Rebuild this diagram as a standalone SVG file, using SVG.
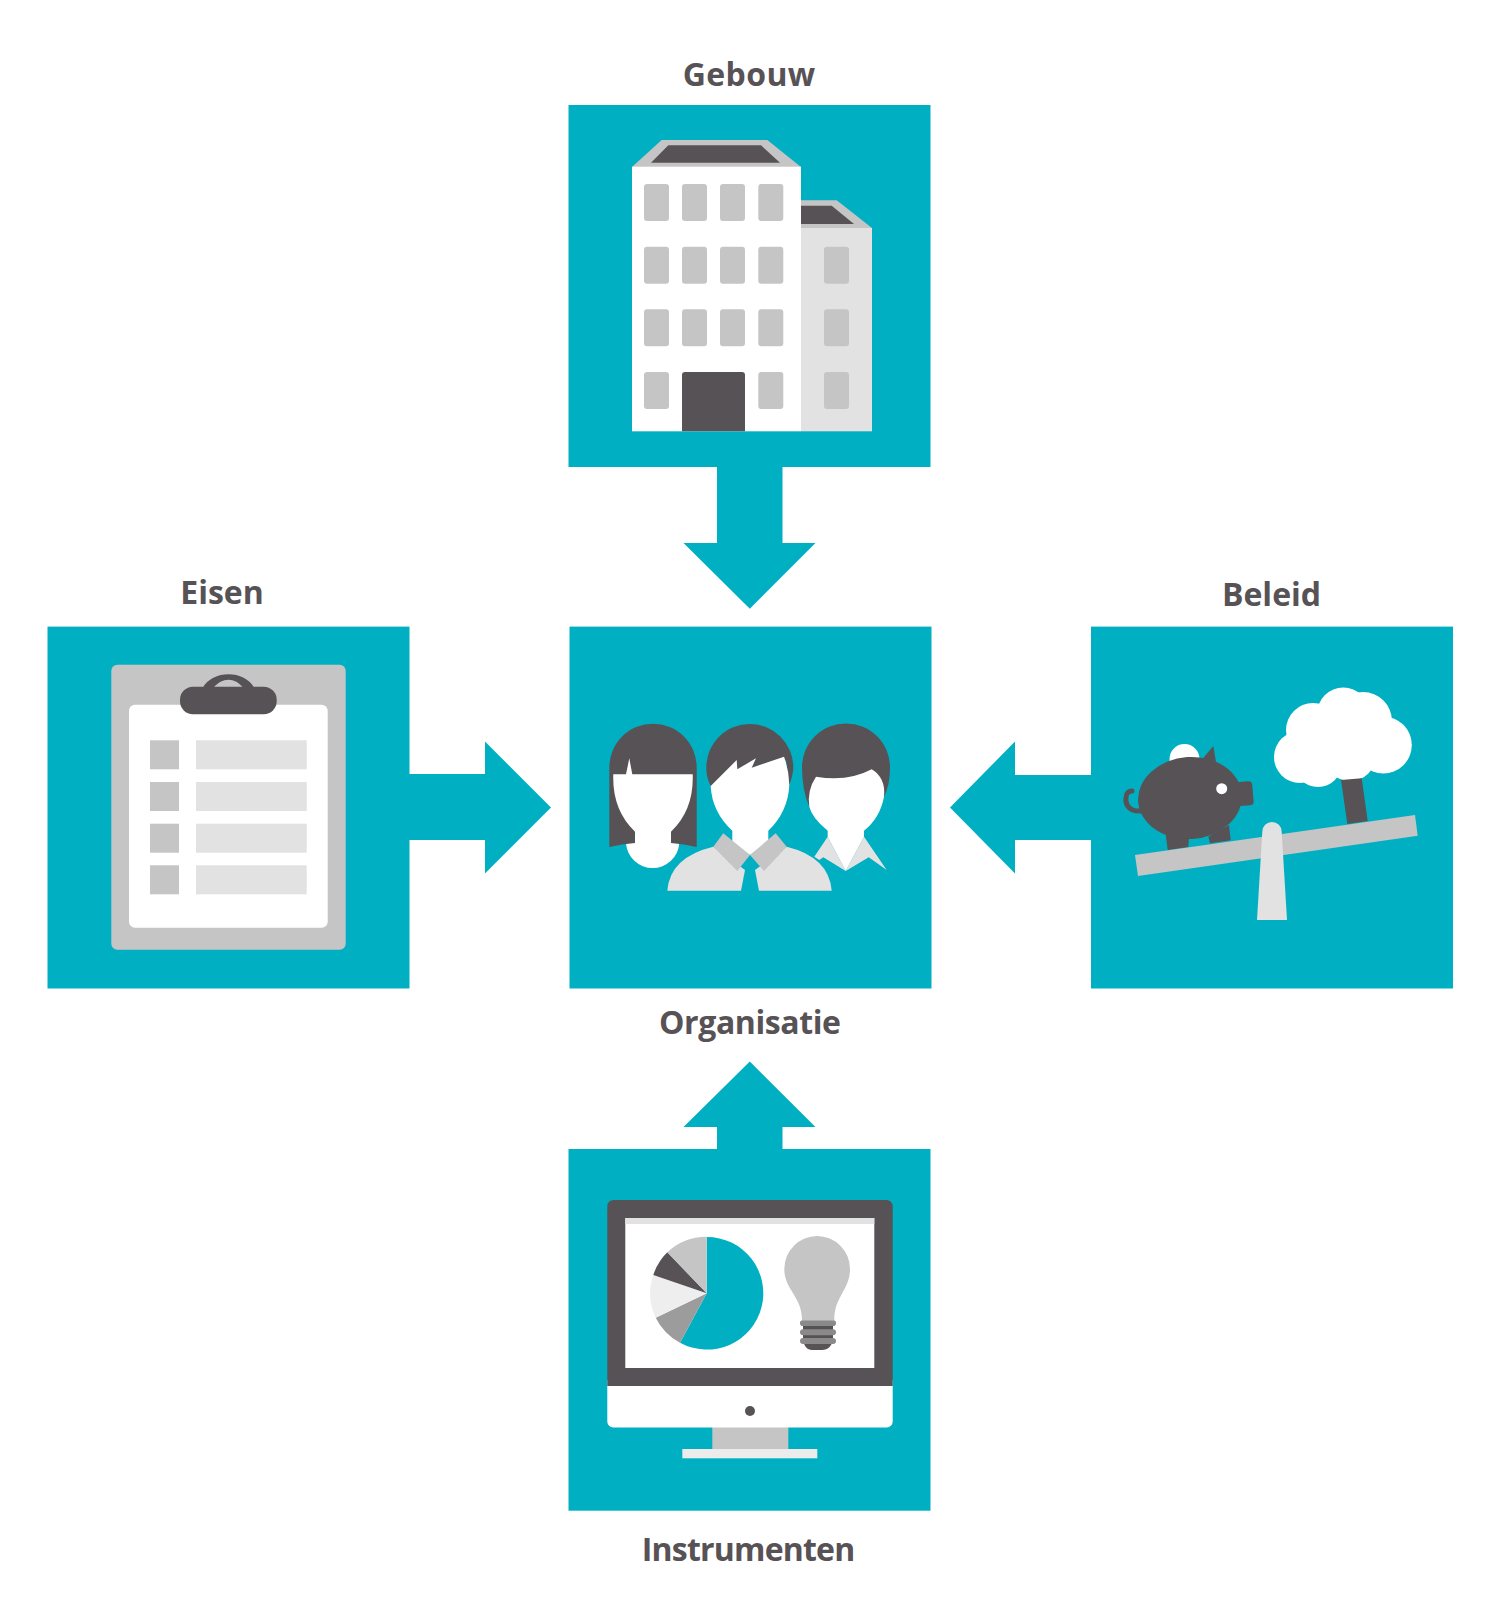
<svg xmlns="http://www.w3.org/2000/svg" width="1500" height="1624" viewBox="0 0 1500 1624">
<style>
.t{fill:#00b0c2}.d{fill:#575255}.g{fill:#c6c5c5}.l{fill:#e2e2e2}.w{fill:#fff}
text{font-family:"Open Sans","Noto Sans",sans-serif;font-weight:700;font-size:32px;fill:#575255}
</style>
<rect width="1500" height="1624" fill="#fff"/>
<g id="connectors" class="t">
<path id="arrow-top" d="M717 467H782.500V543H815.500L749.800 608.800L683.500 543H717Z"/>
<path id="arrow-left" d="M409 774H485V741.500L551 807.500L485 873.500V840H409Z"/>
<path id="arrow-right" d="M1091 775H1015V741.500L950 807.500L1015 873.500V840H1091Z"/>
<path id="arrow-bottom" d="M717 1149V1127H683.500L749.800 1061.500L815.500 1127H782.500V1149Z"/>
</g>
<g id="node-gebouw">
<rect class="t" x="568.500" y="105" width="362" height="362"/>
<path class="g" d="M801 228V200.300H836.700L872 228Z"/>
<path class="d" d="M801 224V205.700H831.700L854 224Z"/>
<rect class="l" x="801" y="228" width="71" height="203.300"/>
<path class="g" d="M632 167L661.700 140H767.300L801 167Z"/>
<path class="d" d="M651 162.700L668.300 145.300H761L780 162.700Z"/>
<rect class="w" x="632" y="166.700" width="169" height="264.600"/>
<g class="g">
<rect x="644" y="184" width="25" height="37" rx="3"/><rect x="682" y="184" width="25" height="37" rx="3"/><rect x="720" y="184" width="25" height="37" rx="3"/><rect x="758.300" y="184" width="25" height="37" rx="3"/>
<rect x="644" y="246.700" width="25" height="37" rx="3"/><rect x="682" y="246.700" width="25" height="37" rx="3"/><rect x="720" y="246.700" width="25" height="37" rx="3"/><rect x="758.300" y="246.700" width="25" height="37" rx="3"/>
<rect x="644" y="309.300" width="25" height="37" rx="3"/><rect x="682" y="309.300" width="25" height="37" rx="3"/><rect x="720" y="309.300" width="25" height="37" rx="3"/><rect x="758.300" y="309.300" width="25" height="37" rx="3"/>
<rect x="644" y="372" width="25" height="37" rx="3"/><rect x="758.300" y="372" width="25" height="37" rx="3"/>
<rect x="824" y="246.700" width="25" height="37" rx="3"/><rect x="824" y="309.300" width="25" height="37" rx="3"/><rect x="824" y="372" width="25" height="37" rx="3"/>
</g>
<path class="d" d="M682 431.300V375a3 3 0 0 1 3-3H742a3 3 0 0 1 3 3V431.300Z"/>
<text x="749" y="85.500" text-anchor="middle" textLength="132.500">Gebouw</text>
</g>
<g id="node-eisen">
<rect class="t" x="47.500" y="626.600" width="362" height="361.900"/>
<rect class="g" x="111.300" y="664.700" width="234.400" height="285" rx="6"/>
<rect class="w" x="129" y="704.700" width="198.700" height="223" rx="6"/>
<path class="d" d="M202.700 688C212 669.500 245 669.500 254.300 688H243.300C235 677 222 677 213.300 688Z"/>
<rect class="d" x="180" y="686.700" width="96.700" height="27.600" rx="13"/>
<g class="g"><rect x="150" y="740.300" width="29" height="29"/><rect x="150" y="782" width="29" height="29"/><rect x="150" y="823.700" width="29" height="29"/><rect x="150" y="865.300" width="29" height="29"/></g>
<g class="l"><rect x="196" y="740.300" width="110.700" height="29"/><rect x="196" y="782" width="110.700" height="29"/><rect x="196" y="823.700" width="110.700" height="29"/><rect x="196" y="865.300" width="110.700" height="29"/></g>
<text x="222" y="604" text-anchor="middle">Eisen</text>
</g>
<g id="node-organisatie">
<rect class="t" x="569.500" y="626.600" width="362" height="361.900"/>
<path class="w" d="M626 843A26.700 26.700 0 0 0 679.300 843Z"/>
<path class="d" d="M609.300 847V767.400A43.700 43.700 0 0 1 696.700 767.400V847Q684 844 671 843H635Q622 844 609.300 847Z"/>
<path class="w" d="M613.300 774.300H626L629.300 758.300L632.300 774.300H692.700Q694 810 671 831.700V843H635V831.700Q612 810 613.300 774.300Z"/>
<path class="d" d="M710.700 786Q706 777 706.300 767.400A43.500 43.500 0 0 1 793.300 767.400Q793 775 789.300 785L786 760Z"/>
<path class="l" d="M667.300 890.700Q670 857 713.300 846.700L745 870L741 890.700Z"/>
<path class="l" d="M831.700 890.700Q829 857 786.700 846.700L755 870L759 890.700Z"/>
<path class="w" d="M710.700 786L736.700 760L737.300 769.300L756 758.300L751.700 767.700L784 756.700Q789 770 789.300 785Q788 812 768.300 830.700V843L750 855L732.300 843V830.700Q712 812 710.700 786Z"/>
<path class="g" d="M723.300 833.300L750 855L737.300 871L713.300 846.700Z"/>
<path class="g" d="M775.700 833.300L786.700 846.700L764 871L750 855Z"/>
<path class="d" d="M809.300 806.700Q802 790 802 767.400A44 44 0 0 1 890 767.400Q890 785 884 796.700L850 805Z"/>
<path class="l" d="M827.700 836.700L845.700 871L823.300 857.300L819.300 860L814.300 856.700Z"/>
<path class="l" d="M864 836.700L886.700 870L868.700 857.300L845.700 871Z"/>
<path class="w" d="M816 776.700Q848 782 871.700 769.300Q886 778 884 796.700Q880 818 864 830.700V836.700L845.700 871L827.700 836.700V830.700Q812 818 809.300 806.700Q807 790 816 776.700Z"/>
<text x="750" y="1034" text-anchor="middle" textLength="182">Organisatie</text>
</g>
<g id="node-beleid">
<rect class="t" x="1091" y="626.600" width="362" height="361.900"/>
<circle class="w" cx="1184.500" cy="759" r="15"/>
<g class="w">
<circle cx="1300" cy="757" r="26"/><circle cx="1318" cy="763" r="24"/><circle cx="1313" cy="730" r="27"/><circle cx="1343.300" cy="713.500" r="26"/><circle cx="1363" cy="721" r="29"/><circle cx="1383.300" cy="745" r="28.500"/><circle cx="1350" cy="755" r="26"/><circle cx="1345" cy="740" r="30"/>
</g>
<path class="d" d="M1341 780L1361.700 778.300L1367.700 821L1347.300 824Z"/>
<path class="d" d="M1165.700 835L1167.700 850L1188.300 847L1189 838ZM1208.300 836.700L1210 843.300L1230.700 840.300L1229 825Z"/>
<path d="M1141 811C1130 812 1125 805 1126 798C1126 794 1128 791 1132 791" fill="none" stroke="#575255" stroke-width="5" stroke-linecap="round"/>
<ellipse class="d" cx="1190" cy="798" rx="52" ry="41" transform="rotate(-4 1190 798)"/>
<path class="d" d="M1203 758.300L1213.300 746L1216 761.700Z"/>
<rect class="d" x="1236" y="781.700" width="17" height="24" rx="4" transform="rotate(-5 1244 794)"/>
<circle class="w" cx="1221.700" cy="788.700" r="5.500"/>
<path class="g" d="M1135 855L1415 815L1417.700 835.700L1138 876Z"/>
<path class="l" d="M1257 920L1262.300 831.700A9.700 9.700 0 0 1 1281.700 831.700L1287 920Z"/>
<text x="1271.500" y="606" text-anchor="middle">Beleid</text>
</g>
<g id="node-instrumenten">
<rect class="t" x="568.500" y="1149" width="362" height="361.700"/>
<rect class="g" x="712.300" y="1425" width="76" height="25"/>
<rect fill="#ececec" x="682.300" y="1449" width="135" height="9.300"/>
<path class="w" d="M607.300 1380V1421.500a6 6 0 0 0 6 6H886.700a6 6 0 0 0 6-6V1380Z"/>
<path class="d" d="M607.300 1386V1206a6 6 0 0 1 6-6H886.700a6 6 0 0 1 6 6V1386Z"/>
<rect class="w" x="625.300" y="1218" width="249" height="150"/>
<rect class="l" x="625.300" y="1218" width="249" height="6"/>
<circle class="d" cx="750" cy="1411" r="5"/>
<path class="t" d="M706.700 1293.300V1237A56.300 56.300 0 1 1 680 1342.700Z"/>
<path fill="#9d9c9c" d="M706.700 1293.300L680 1342.700A56.700 56.700 0 0 1 655.700 1317.700Z"/>
<path fill="#eeeeee" d="M706.700 1293.300L655.700 1317.700A56.700 56.700 0 0 1 653.300 1275Z"/>
<path class="d" d="M706.700 1293.300L653.300 1275A56.700 56.700 0 0 1 667.300 1252.300Z"/>
<path class="g" d="M706.700 1293.300L667.300 1252.300A56.700 56.700 0 0 1 706.700 1236.700Z"/>
<path class="g" d="M802 1320C802 1296 784.300 1290 784.300 1269A32.850 33 0 0 1 850 1269C850 1290 834.300 1296 834.300 1320Z"/>
<path class="d" d="M803 1322H833V1340C831.700 1346 828 1350 822 1350H812C807 1350 804 1346 803 1340Z"/>
<g fill="#8b8a8a"><rect x="800" y="1320.300" width="36" height="5.700" rx="2.800"/><rect x="800" y="1329.300" width="36" height="6" rx="3"/><rect x="800" y="1338" width="36" height="6" rx="3"/></g>
<text x="748.500" y="1561" text-anchor="middle" textLength="213.500">Instrumenten</text>
</g>
</svg>
